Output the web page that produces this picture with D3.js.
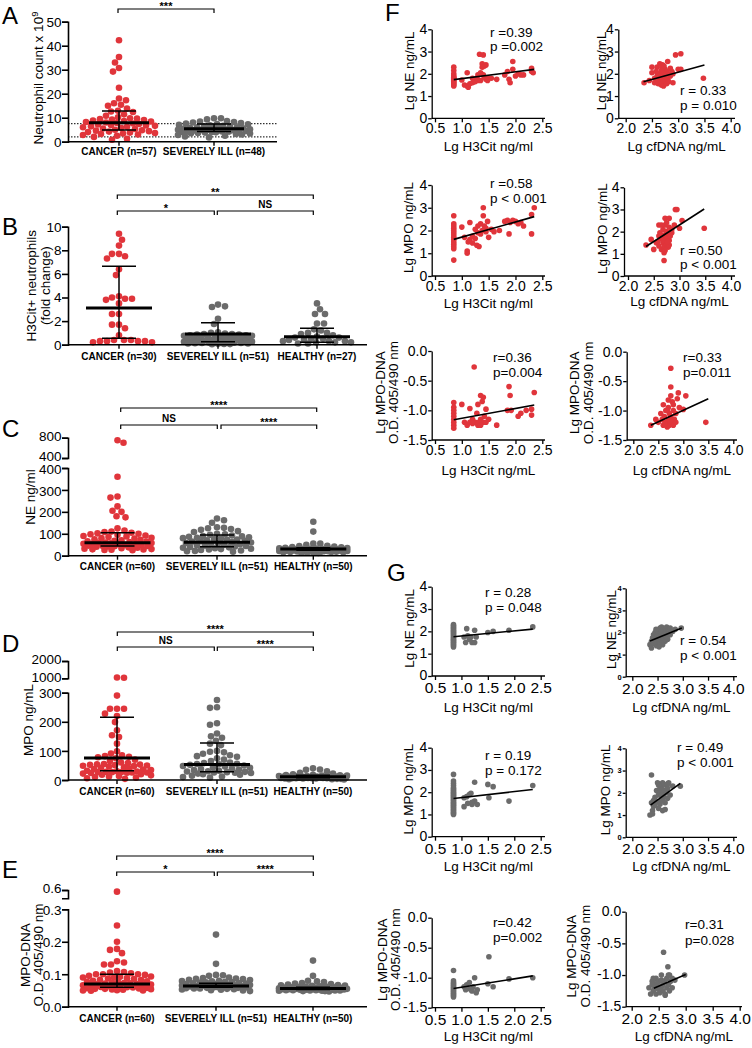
<!DOCTYPE html>
<html><head><meta charset="utf-8">
<script src="https://cdn.jsdelivr.net/npm/d3@7"></script>
<style>body{margin:0;background:#fff}</style>
</head><body>
<script>
// ================= DATA =================
const aGroups = ['CANCER (n=57)', 'SEVERELY ILL (n=48)'];
const bGroups = ['CANCER (n=30)', 'SEVERELY ILL (n=51)', 'HEALTHY (n=27)'];
const cdeGroups = ['CANCER (n=60)', 'SEVERELY ILL (n=51)', 'HEALTHY (n=50)'];

const aCancer = [42.3,35.3,33.0,30.7,29.2,22.5,18.0,17.3,16.0,15.4,15.0,13.8,12.9,12.6,12.4,11.4,10.8,10.2,9.8,9.6,9.4,9.2,9.0,8.8,8.6,8.4,8.2,8.0,7.8,7.6,7.4,7.2,7.0,6.8,6.6,6.4,6.2,6.0,5.8,5.5,5.3,5.0,4.8,4.6,4.4,4.2,4.0,3.8,3.6,3.4,3.2,3.0,2.8,2.5,2.0,1.2,0.8];
const aSevere = [9.8,9.8,9.3,8.6,8.4,8.2,8.0,7.8,7.6,7.4,7.2,7.0,6.8,6.6,6.4,6.2,6.0,6.0,5.8,5.6,5.5,5.4,5.3,5.2,5.1,5.0,5.0,4.9,4.8,4.7,4.6,4.5,4.4,4.3,4.2,4.1,4.0,3.9,3.8,3.6,3.5,3.4,3.2,3.0,2.8,2.5,2.2,1.8];
const aMedian = [7.9, 5.4], aUpper = [12.8, 7.4], aLower = [4.9, 4.2];
const aRefLines = [7.5, 2.0];
const aTicks = [0,10,20,30,40,50];

const bCancer = [9.4,8.9,8.4,7.7,7.7,7.5,7.3,6.4,5.9,4.1,4.0,3.9,3.9,3.8,3.5,2.6,2.6,1.7,1.7,1.4,0.8,0.4,0.4,0.4,0.3,0.3,0.3,0.3,0.2,0.2];
const bSevere = [3.4,3.25,3.2,2.2,1.75,1.05,1.0,0.95,0.9,0.9,0.85,0.85,0.8,0.8,0.75,0.75,0.7,0.7,0.65,0.65,0.6,0.6,0.55,0.55,0.5,0.5,0.45,0.45,0.4,0.4,0.35,0.35,0.3,0.3,0.28,0.26,0.24,0.22,0.2,0.2,0.18,0.16,0.15,0.14,0.12,0.1,0.1,0.08,0.06,0.05,0.04];
const bHealthy = [3.5,3.0,2.6,2.6,1.8,1.8,1.3,1.2,1.0,1.0,0.9,0.8,0.7,0.6,0.6,0.5,0.5,0.4,0.4,0.3,0.3,0.3,0.2,0.2,0.2,0.1,0.1];
const bMedian = [3.1, 0.9, 0.68], bUpper = [6.65, 1.87, 1.39], bLower = [0.54, 0.25, 0.2];
const bTicks = [0,2,4,6,8,10];

const cCancer = [750,700,360,270,265,225,205,200,180,175,125,115,110,108,105,102,100,98,95,92,90,88,85,82,80,78,75,72,70,68,66,64,62,60,59,58,57,56,55,54,52,50,48,47,46,45,44,43,42,41,38,36,34,32,30,29,28,27,26,25];
const cSevere = [170,162,150,130,127,125,122,118,112,108,100,98,95,92,90,88,86,84,82,80,78,76,74,72,70,68,66,64,62,60,58,56,54,52,50,48,46,44,42,40,38,36,34,32,30,28,26,24,22,20,18];
const cHealthy = [155,110,55,55,50,45,44,42,40,38,36,35,34,33,32,31,30,30,29,29,28,28,27,27,26,26,25,25,24,24,23,23,22,22,21,21,20,20,19,19,18,18,17,17,16,16,15,15,14,12];
const cMedian = [59, 61, 30], cUpper = [105, 94, 36], cLower = [44, 41, 25];
const cTicksLow = [0,100,200,300,400], cTicksHigh = [400,800];

const dCancer = [1050,1030,290,245,245,245,228,220,199,171,154,148,125,99,91,85,82,80,78,75,70,65,60,58,55,54,53,52,51,50,49,48,46,44,42,40,38,36,34,32,30,29,28,28,27,27,26,26,25,24,22,20,18,16,14,12,10,8,6,4];
const dSevere = [275,250,248,195,190,160,150,145,135,125,120,100,97,95,90,85,82,80,75,70,65,60,58,56,55,54,52,50,48,46,44,42,40,38,36,34,32,30,29,28,27,26,25,24,22,20,18,15,12,10,8];
const dHealthy = [40,36,35,30,25,22,20,18,17,16,15,15,14,14,13,13,12,12,12,11,11,11,10,10,10,10,9,9,9,9,8,8,8,8,7,7,7,7,6,6,6,6,5,5,5,4,4,3,3,2];
const dMedian = [76, 53, 11], dUpper = [216, 127, 16], dLower = [32, 28, 8];
const dTicksLow = [0,100,200,300], dTicksHigh = [1000,2000];

const eCancer = [0.58,0.25,0.20,0.178,0.175,0.165,0.14,0.136,0.13,0.13,0.11,0.107,0.105,0.103,0.10,0.10,0.10,0.098,0.095,0.093,0.092,0.09,0.09,0.088,0.087,0.085,0.083,0.082,0.08,0.078,0.077,0.075,0.074,0.073,0.072,0.071,0.07,0.069,0.068,0.067,0.066,0.065,0.064,0.063,0.062,0.061,0.06,0.059,0.058,0.057,0.056,0.055,0.055,0.054,0.053,0.052,0.051,0.05,0.05,0.049];
const eSevere = [0.222,0.132,0.098,0.097,0.095,0.09,0.088,0.087,0.086,0.085,0.083,0.082,0.08,0.079,0.078,0.077,0.076,0.075,0.074,0.073,0.072,0.071,0.07,0.07,0.069,0.068,0.067,0.066,0.066,0.065,0.065,0.064,0.063,0.062,0.062,0.061,0.06,0.06,0.059,0.058,0.058,0.057,0.056,0.056,0.055,0.054,0.053,0.052,0.051,0.05,0.048];
const eHealthy = [0.142,0.095,0.08,0.078,0.076,0.073,0.071,0.07,0.068,0.067,0.066,0.065,0.064,0.063,0.062,0.062,0.061,0.06,0.06,0.059,0.059,0.058,0.058,0.057,0.057,0.056,0.056,0.055,0.055,0.055,0.054,0.054,0.054,0.053,0.053,0.053,0.052,0.052,0.052,0.051,0.051,0.051,0.05,0.05,0.05,0.049,0.049,0.048,0.048,0.047];
const eMedian = [0.070, 0.064, 0.056], eUpper = [0.100, 0.072, 0.060], eLower = [0.060, 0.060, 0.053];
const eTicksLow = [0,0.1,0.2,0.3], eTicksHigh = [0.6];

// correlation scatter data [x, y]
const fNeH3cit = [[0.85,2.3],[0.85,2.15],[0.85,2.0],[0.85,1.9],[0.85,1.85],[0.85,1.8],[0.85,1.75],[0.85,1.7],[0.85,1.65],[0.85,1.6],[0.85,1.55],[0.85,1.5],[0.85,1.45],[1.0,1.72],[1.1,2.05],[1.05,1.5],[1.1,1.45],[1.12,1.4],[1.15,1.55],[1.2,1.6],[1.22,1.75],[1.25,1.65],[1.3,1.7],[1.3,1.95],[1.33,2.88],[1.4,2.85],[1.38,2.45],[1.42,2.35],[1.45,2.4],[1.38,2.3],[1.35,2.05],[1.4,1.95],[1.42,1.85],[1.45,1.75],[1.5,1.8],[1.48,1.7],[1.35,1.7],[1.28,1.8],[1.2,1.8],[1.55,1.8],[1.65,1.75],[1.8,1.95],[1.85,2.1],[1.9,1.6],[1.88,1.75],[1.95,2.55],[1.95,2.2],[2.0,1.9],[2.05,2.0],[2.1,1.95],[2.15,1.95],[2.3,2.25],[2.3,2.1],[2.33,2.05]];
const fNeH3citFit = [[0.85,1.74],[2.35,2.2]];
const fNeCfdna = [[2.35,1.6],[2.45,1.7],[2.5,2.3],[2.5,2.05],[2.55,1.6],[2.55,1.8],[2.6,2.3],[2.6,1.9],[2.62,1.55],[2.65,1.7],[2.65,2.0],[2.68,1.5],[2.7,2.4],[2.7,2.3],[2.7,1.8],[2.7,1.6],[2.72,2.0],[2.72,1.45],[2.75,2.2],[2.75,1.9],[2.75,1.7],[2.78,2.1],[2.78,1.55],[2.8,2.55],[2.8,2.0],[2.8,1.8],[2.82,1.65],[2.85,2.25],[2.85,1.9],[2.9,2.0],[2.95,2.85],[3.0,2.2],[3.05,2.9],[3.05,2.2],[2.9,1.6],[2.6,1.65],[2.65,2.45],[2.68,2.15],[2.73,2.35],[3.48,1.8],[2.58,2.1],[2.88,2.1],[2.78,1.95],[2.7,2.05],[2.66,1.85]];
const fNeCfdnaFit = [[2.34,1.64],[3.5,2.4]];
const fMpoH3cit = [[0.85,0.7],[0.85,1.2],[0.85,1.3],[0.85,1.4],[0.85,1.5],[0.85,1.6],[0.85,1.7],[0.85,1.8],[0.85,1.9],[0.85,2.0],[0.85,2.1],[0.85,2.2],[0.85,2.3],[0.85,2.65],[1.0,2.15],[1.05,1.7],[1.1,1.1],[1.1,1.0],[1.12,1.5],[1.15,2.35],[1.15,1.6],[1.2,1.45],[1.2,1.75],[1.25,1.65],[1.28,1.35],[1.3,1.9],[1.3,2.2],[1.32,1.3],[1.35,2.3],[1.35,1.85],[1.38,2.0],[1.4,3.0],[1.4,2.65],[1.42,2.2],[1.45,2.1],[1.45,1.95],[1.48,2.4],[1.5,1.7],[1.55,2.05],[1.6,1.95],[1.7,2.0],[1.8,2.4],[1.85,2.45],[1.88,1.85],[1.9,2.35],[1.95,2.45],[2.0,2.4],[2.05,2.3],[2.1,2.35],[2.15,2.2],[2.3,1.85],[2.3,2.7],[2.35,3.0],[1.25,2.05]];
const fMpoH3citFit = [[0.85,1.61],[2.35,2.61]];
const fMpoCfdna = [[2.35,1.4],[2.45,1.65],[2.5,1.2],[2.55,1.5],[2.6,2.3],[2.6,1.35],[2.62,1.95],[2.65,1.7],[2.65,1.2],[2.68,2.1],[2.68,1.5],[2.7,0.7],[2.7,1.85],[2.7,1.3],[2.7,1.05],[2.72,2.6],[2.72,2.3],[2.72,1.6],[2.75,2.4],[2.75,2.0],[2.75,1.75],[2.75,1.45],[2.78,1.9],[2.78,1.3],[2.8,2.6],[2.8,2.2],[2.8,1.6],[2.82,1.8],[2.85,2.1],[2.85,1.95],[2.9,2.3],[2.92,3.0],[2.95,3.0],[3.0,2.15],[3.05,2.5],[2.6,1.8],[2.65,2.3],[2.8,1.4],[2.68,1.6],[2.72,1.15],[3.48,2.15],[2.58,1.55],[2.77,1.55]];
const fMpoCfdnaFit = [[2.35,1.33],[3.48,3.02]];
const fDnaH3cit = [[0.85,-0.87],[0.85,-0.95],[0.85,-1.0],[0.85,-1.05],[0.85,-1.1],[0.85,-1.15],[0.85,-1.2],[0.85,-1.25],[0.85,-1.3],[1.0,-0.9],[1.05,-1.2],[1.1,-1.25],[1.15,-0.97],[1.2,-1.15],[1.25,-1.2],[1.23,-0.27],[1.3,-0.9],[1.3,-1.25],[1.35,-0.75],[1.35,-1.15],[1.38,-0.85],[1.4,-0.78],[1.4,-1.2],[1.42,-1.1],[1.45,-0.98],[1.45,-1.2],[1.5,-1.15],[1.28,-1.05],[1.32,-1.2],[1.15,-1.2],[1.65,-1.25],[1.85,-1.0],[1.88,-0.6],[1.9,-0.75],[1.92,-1.0],[2.05,-1.1],[2.1,-1.05],[2.2,-1.0],[2.3,-1.08],[2.3,-0.98],[2.35,-0.7],[1.2,-1.22],[1.35,-1.25]];
const fDnaH3citFit = [[0.85,-1.16],[2.35,-0.91]];
const fDnaCfdna = [[2.35,-1.25],[2.45,-1.15],[2.5,-1.2],[2.55,-1.05],[2.6,-1.25],[2.6,-0.9],[2.62,-1.1],[2.65,-1.2],[2.65,-1.0],[2.68,-1.28],[2.7,-0.95],[2.7,-1.15],[2.72,-1.05],[2.72,-1.25],[2.75,-0.28],[2.75,-0.6],[2.75,-0.75],[2.75,-1.1],[2.78,-0.85],[2.78,-1.2],[2.8,-0.9],[2.8,-1.0],[2.8,-1.25],[2.82,-1.15],[2.85,-1.05],[2.9,-0.7],[2.92,-0.95],[3.0,-0.98],[3.05,-0.75],[2.88,-0.8],[3.45,-1.2],[2.58,-1.15],[2.68,-1.0],[2.73,-1.18],[2.63,-1.22],[2.7,-0.82],[2.85,-1.2]];
const fDnaCfdnaFit = [[2.35,-1.25],[3.5,-0.8]];

const gNeH3cit = [[0.85,1.3],[0.85,1.35],[0.85,1.4],[0.85,1.45],[0.85,1.5],[0.85,1.55],[0.85,1.6],[0.85,1.65],[0.85,1.7],[0.85,1.75],[0.85,1.8],[0.85,1.85],[0.85,1.9],[0.85,1.95],[0.85,2.0],[0.85,2.05],[0.85,2.1],[0.85,2.15],[0.85,2.2],[0.85,2.25],[0.85,2.3],[1.05,1.75],[1.08,1.5],[1.1,2.12],[1.12,1.8],[1.15,1.65],[1.18,1.75],[1.2,1.5],[1.25,2.05],[1.25,1.5],[1.28,1.75],[1.5,1.95],[1.6,2.0],[1.9,2.05],[2.35,2.2]];
const gNeH3citFit = [[0.85,1.76],[2.35,2.1]];
const gNeCfdna = [[2.35,1.45],[2.38,1.6],[2.38,1.3],[2.4,1.75],[2.42,1.9],[2.42,1.5],[2.45,1.65],[2.45,2.0],[2.48,1.4],[2.48,1.8],[2.5,2.1],[2.5,1.55],[2.52,1.7],[2.52,1.95],[2.55,2.2],[2.55,1.85],[2.55,1.5],[2.58,2.25],[2.58,1.65],[2.6,2.0],[2.6,1.75],[2.62,2.15],[2.62,1.9],[2.65,2.1],[2.65,1.6],[2.68,2.25],[2.68,1.8],[2.7,2.0],[2.72,2.15],[2.75,1.9],[2.75,2.2],[2.8,2.05],[2.85,2.15],[2.97,2.2],[2.45,1.75],[2.5,1.85],[2.6,1.45],[2.42,1.55],[2.57,2.05],[2.64,1.95],[2.7,1.7],[2.47,2.15],[2.53,1.35]];
const gNeCfdnaFit = [[2.35,1.62],[2.98,2.2]];
const gMpoH3cit = [[0.85,1.0],[0.85,1.05],[0.85,1.1],[0.85,1.15],[0.85,1.2],[0.85,1.25],[0.85,1.3],[0.85,1.35],[0.85,1.4],[0.85,1.45],[0.85,1.5],[0.85,1.55],[0.85,1.6],[0.85,1.65],[0.85,1.7],[0.85,1.75],[0.85,1.8],[0.85,1.85],[0.85,1.9],[0.85,1.95],[0.85,2.0],[0.85,2.05],[0.85,2.1],[0.85,2.15],[0.85,2.2],[0.85,2.3],[0.85,2.4],[0.85,2.5],[0.85,2.8],[1.05,1.75],[1.05,1.35],[1.1,1.8],[1.12,1.5],[1.15,1.9],[1.18,1.95],[1.2,1.45],[1.25,2.45],[1.25,1.6],[1.3,1.45],[1.5,2.35],[1.52,1.75],[1.6,2.25],[1.9,1.6],[2.35,2.3],[1.2,1.55]];
const gMpoH3citFit = [[0.85,1.72],[2.35,2.12]];
const gMpoCfdna = [[2.35,1.0],[2.38,2.8],[2.38,1.55],[2.4,1.2],[2.42,1.4],[2.45,1.8],[2.48,2.1],[2.5,1.6],[2.5,2.45],[2.52,1.3],[2.52,1.9],[2.55,2.0],[2.55,1.5],[2.58,2.3],[2.58,1.7],[2.6,2.45],[2.6,1.2],[2.62,2.1],[2.62,1.85],[2.65,2.35],[2.65,1.55],[2.68,2.0],[2.7,2.2],[2.7,1.75],[2.72,2.45],[2.75,1.9],[2.8,2.3],[2.95,2.3],[2.45,1.45],[2.55,2.2],[2.6,1.65],[2.52,2.35],[2.65,1.25],[2.42,1.65],[2.7,2.4],[2.58,1.9],[2.4,1.05]];
const gMpoCfdnaFit = [[2.36,1.45],[2.95,2.42]];
const gDnaH3cit = [[0.85,-0.88],[0.85,-1.05],[0.85,-1.08],[0.85,-1.1],[0.85,-1.12],[0.85,-1.14],[0.85,-1.16],[0.85,-1.18],[0.85,-1.2],[0.85,-1.22],[0.85,-1.24],[0.85,-1.26],[0.85,-1.28],[0.85,-1.3],[0.85,-1.32],[1.05,-1.15],[1.08,-1.2],[1.1,-1.12],[1.12,-1.18],[1.15,-1.08],[1.2,-1.22],[1.22,-1.15],[1.25,-1.0],[1.28,-1.25],[1.3,-1.2],[1.5,-1.1],[1.52,-0.65],[1.6,-1.15],[1.9,-1.02],[2.35,-1.0],[1.18,-1.2]];
const gDnaH3citFit = [[0.85,-1.18],[2.35,-0.97]];
const gDnaCfdna = [[2.32,-1.2],[2.35,-1.3],[2.38,-1.1],[2.4,-1.25],[2.42,-1.15],[2.45,-1.05],[2.45,-1.3],[2.48,-1.2],[2.59,-0.64],[2.5,-1.1],[2.52,-1.28],[2.55,-1.0],[2.55,-1.18],[2.67,-0.87],[2.58,-1.25],[2.6,-1.1],[2.62,-1.32],[2.65,-1.05],[2.65,-1.2],[2.68,-1.15],[2.7,-1.0],[2.7,-1.25],[2.72,-1.1],[2.75,-1.05],[2.8,-1.08],[2.98,-1.0],[2.42,-1.22],[2.48,-1.12],[2.58,-1.15],[2.62,-1.3],[2.55,-1.08],[2.4,-1.05],[2.68,-1.0],[2.38,-1.15],[2.5,-1.22],[2.75,-1.2]];
const gDnaCfdnaFit = [[2.41,-1.21],[3.0,-0.99]];

const h3citTicks = [0.5,1.0,1.5,2.0,2.5];
const cfdnaTicks = [2.0,2.5,3.0,3.5,4.0];
const lgTicks = [0,1,2,3,4];
const dnaTicks = [-1.5,-1.0,-0.5,0.0];

// ================= DRAWING =================
const RED = '#e0353b', GRAY = '#6b6b6b';
const FONT = '"Liberation Sans", Arial, Helvetica, sans-serif';
const svg = d3.select('body').append('svg').attr('width', 752).attr('height', 1048)
  .style('font-family', FONT);

function letter(t, x, y) {
  svg.append('text').attr('x', x).attr('y', y).attr('font-size', 24).text(t);
}

function makeY(segs) {
  const sc = segs.map(s => d3.scaleLinear().domain(s.domain).range(s.range));
  return v => {
    for (let i = 0; i < segs.length; i++) {
      if (v <= segs[i].domain[1] || i === segs.length - 1) return sc[i](v);
    }
  };
}

function swarm(values, yf, cx, d, maxHalf) {
  const pts = values.map(v => ({ v, y: yf(v) })).sort((a, b) => a.y - b.y);
  const placed = [];
  pts.forEach((p, idx) => {
    let found = null, alt = cx, altScore = -1;
    const sgn = idx % 2 ? 1 : -1;
    for (let k = 0; k <= 2 * maxHalf; k++) {
      const off = k === 0 ? 0 : (k % 2 ? sgn : -sgn) * Math.ceil(k / 2);
      const x = cx + off;
      let minD = Infinity;
      for (const q of placed) {
        const dd = Math.hypot(q.x - x, q.y - p.y);
        if (dd < minD) minD = dd;
      }
      if (minD >= d) { found = x; break; }
      if (minD > altScore + 0.01) { altScore = minD; alt = x; }
    }
    p.x = found !== null ? found : alt;
    placed.push(p);
  });
  return placed;
}

function styleAxis(ax, sw, fs, bold) {
  ax.attr('font-family', FONT).attr('font-size', fs);
  ax.selectAll('path,line').attr('stroke', '#000').attr('stroke-width', sw);
  if (bold) ax.selectAll('text').attr('font-weight', 'bold');
}

function dotPanel(p) {
  const g = svg.append('g');
  const y = makeY(p.segs);
  const base = p.segs[0].range[0];
  (p.refLines || []).forEach(v => {
    g.append('line').attr('x1', p.axisX).attr('x2', p.axisEnd).attr('y1', y(v)).attr('y2', y(v))
      .attr('stroke', '#000').attr('stroke-width', 1).attr('stroke-dasharray', '1.5,1.5');
  });
  p.series.forEach((vals, i) => {
    const pts = swarm(vals, y, p.centers[i], 6.4, p.maxHalf || 34);
    g.append('g').selectAll('circle').data(pts).join('circle')
      .attr('cx', d => d.x).attr('cy', d => d.y).attr('r', 3.3)
      .attr('fill', i === 0 ? RED : GRAY);
  });
  p.centers.forEach((cx, i) => {
    const lw = p.medHalf || 33, cw = 17;
    g.append('line').attr('x1', cx).attr('x2', cx).attr('y1', y(p.lower[i])).attr('y2', y(p.upper[i]))
      .attr('stroke', '#000').attr('stroke-width', 1.5);
    [p.lower[i], p.upper[i]].forEach(v => g.append('line').attr('x1', cx - cw).attr('x2', cx + cw)
      .attr('y1', y(v)).attr('y2', y(v)).attr('stroke', '#000').attr('stroke-width', 1.5));
    g.append('line').attr('x1', cx - lw).attr('x2', cx + lw).attr('y1', y(p.median[i])).attr('y2', y(p.median[i]))
      .attr('stroke', '#000').attr('stroke-width', 3);
  });
  g.append('line').attr('x1', p.axisX).attr('x2', p.axisEnd).attr('y1', base).attr('y2', base)
    .attr('stroke', '#000').attr('stroke-width', 1.6);
  p.centers.forEach((cx, i) => {
    g.append('line').attr('x1', cx).attr('x2', cx).attr('y1', base).attr('y2', base + 4)
      .attr('stroke', '#000').attr('stroke-width', 1.4);
    g.append('text').attr('x', cx).attr('y', p.labelY).attr('text-anchor', 'middle')
      .attr('font-weight', 'bold').attr('font-size', 10).text(p.groups[i]);
  });
  p.segs.forEach((s, si) => {
    const sc = d3.scaleLinear().domain(s.domain).range(s.range);
    const ax = g.append('g').attr('transform', `translate(${p.axisX},0)`)
      .call(d3.axisLeft(sc).tickValues(s.ticks).tickSize(6).tickSizeOuter(6).tickPadding(0.5).tickFormat(p.fmt));
    styleAxis(ax, 1.6, 13.5);
    if (si > 0) ax.selectAll('text').attr('dy', '0.2em');
    else if (p.segs.length > 1) ax.selectAll('text').attr('dy', '0.38em');
  });
  p.brackets.forEach(b => {
    g.append('path').attr('d', `M${b.x1},${b.y + 4}V${b.y}H${b.x2}V${b.y + 4}`)
      .attr('fill', 'none').attr('stroke', '#000').attr('stroke-width', 1.2);
    const star = b.text.indexOf('*') >= 0;
    g.append('text').attr('x', (b.x1 + b.x2) / 2).attr('y', star ? b.y + 0.5 : b.y - 3).attr('text-anchor', 'middle')
      .attr('font-weight', 'bold').attr('font-size', star ? 11 : 10).text(b.text);
  });
  const ym = p.titleY || (p.segs[0].range[0] + p.segs[p.segs.length - 1].range[1]) / 2;
  p.title.forEach((t, i) => {
    const tx = g.append('text').attr('transform', `translate(${p.titleX[i]},${ym}) rotate(-90)`)
      .attr('text-anchor', 'middle').attr('dy', '0.35em').attr('font-size', 13.5).text(t);
    if (p.sup && i === 0) tx.append('tspan').attr('dy', '-0.45em').attr('font-size', 9.5).text(p.sup);
  });
  letter(p.letter, 2, p.letterY);
}

const intFmt = d => String(d);
const oneFmt = d => d.toFixed(1);

dotPanel({
  letter: 'A', letterY: 24, groups: aGroups, series: [aCancer, aSevere],
  median: aMedian, upper: aUpper, lower: aLower, refLines: aRefLines,
  centers: [119, 214], axisX: 68, axisEnd: 277, labelY: 155, medHalf: 30, maxHalf: 36,
  segs: [{ domain: [0, 50], range: [141.7, 21.7], ticks: aTicks }], fmt: intFmt,
  brackets: [{ x1: 118, x2: 214, y: 9, text: '***' }],
  title: ['Neutrophil count x 10'], sup: '9', titleX: [38], titleY: 78
});
dotPanel({
  letter: 'B', letterY: 235, groups: bGroups, series: [bCancer, bSevere, bHealthy],
  median: bMedian, upper: bUpper, lower: bLower,
  centers: [119, 218, 317], axisX: 68, axisEnd: 367, labelY: 360,
  segs: [{ domain: [0, 10], range: [344.7, 226.7], ticks: bTicks }], fmt: intFmt,
  brackets: [{ x1: 117.3, x2: 313.3, y: 195, text: '**' }, { x1: 117.3, x2: 214.3, y: 211, text: '*' }, { x1: 217.3, x2: 313.3, y: 211, text: 'NS' }],
  title: ['H3Cit+ neutrophils', '(fold change)'], titleX: [31, 45]
});
dotPanel({
  letter: 'C', letterY: 437, groups: cdeGroups, series: [cCancer, cSevere, cHealthy],
  median: cMedian, upper: cUpper, lower: cLower,
  centers: [117.5, 217, 313.3], axisX: 68, axisEnd: 367, labelY: 570,
  segs: [{ domain: [0, 400], range: [555.7, 468], ticks: cTicksLow }, { domain: [400, 800], range: [458, 437.7], ticks: cTicksHigh }], fmt: intFmt,
  brackets: [{ x1: 120.7, x2: 316.7, y: 408, text: '****' }, { x1: 120.7, x2: 217.3, y: 425, text: 'NS' }, { x1: 221, x2: 316.7, y: 425, text: '****' }],
  title: ['NE ng/ml'], titleX: [30], titleY: 497
});
dotPanel({
  letter: 'D', letterY: 652, groups: cdeGroups, series: [dCancer, dSevere, dHealthy],
  median: dMedian, upper: dUpper, lower: dLower,
  centers: [117, 217, 313], axisX: 68, axisEnd: 367, labelY: 795,
  segs: [{ domain: [0, 300], range: [780, 692.7], ticks: dTicksLow }, { domain: [1000, 2000], range: [678.3, 661], ticks: dTicksHigh }], fmt: intFmt,
  brackets: [{ x1: 117.3, x2: 313.3, y: 632, text: '****' }, { x1: 117.3, x2: 214.3, y: 647, text: 'NS' }, { x1: 217.3, x2: 313.3, y: 647, text: '****' }],
  title: ['MPO ng/mL'], titleX: [28], titleY: 720
});
dotPanel({
  letter: 'E', letterY: 878, groups: cdeGroups, series: [eCancer, eSevere, eHealthy],
  median: eMedian, upper: eUpper, lower: eLower,
  centers: [117, 216, 313], axisX: 68, axisEnd: 367, labelY: 1021.7,
  segs: [{ domain: [0, 0.3], range: [1006.7, 909.3], ticks: eTicksLow }, { domain: [0.5, 0.6], range: [898.3, 890], ticks: eTicksHigh }], fmt: oneFmt,
  brackets: [{ x1: 116.7, x2: 313.3, y: 856, text: '****' }, { x1: 116.7, x2: 214.3, y: 872, text: '*' }, { x1: 217.3, x2: 313.3, y: 872, text: '****' }],
  title: ['MPO-DNA', 'O.D. 405/490 nm'], titleX: [25, 38], titleY: 955
});

// ---------- scatter panels ----------
function scatter(p) {
  const g = svg.append('g');
  const x = d3.scaleLinear().domain([p.xTicks[0], p.xTicks[p.xTicks.length - 1]]).range(p.xp);
  const y = d3.scaleLinear().domain([p.yTicks[0], p.yTicks[p.yTicks.length - 1]]).range(p.yr);
  const base = p.yr[0];
  g.selectAll('circle').data(p.data).join('circle')
    .attr('cx', d => x(d[0])).attr('cy', d => y(d[1])).attr('r', 2.8).attr('fill', p.color);
  g.append('line').attr('x1', x(p.fit[0][0])).attr('y1', y(p.fit[0][1]))
    .attr('x2', x(p.fit[1][0])).attr('y2', y(p.fit[1][1]))
    .attr('stroke', '#000').attr('stroke-width', 1.6);
  const xa = g.append('g').attr('transform', `translate(0,${base})`)
    .call(d3.axisBottom(x).tickValues(p.xTicks).tickSize(4).tickSizeOuter(0).tickPadding(p.xfs ? 2 : 1).tickFormat(oneFmt));
  xa.select('.domain').remove();
  styleAxis(xa, 1.3, p.xfs || 14);
  g.append('line').attr('x1', p.axisX).attr('x2', p.xEnd).attr('y1', base).attr('y2', base)
    .attr('stroke', '#000').attr('stroke-width', 1.3);
  const ya = g.append('g').attr('transform', `translate(${p.axisX},0)`)
    .call(d3.axisLeft(y).tickValues(p.yTicks).tickSize(p.small ? 3 : 3.5).tickSizeOuter(0).tickPadding(1)
      .tickFormat(p.yFmt));
  styleAxis(ya, 1.3, p.small ? 7.5 : 14, p.small);
  if (p.xfs && !p.small) ya.selectAll('text').attr('dy', '0.28em');
  g.append('text').attr('x', (p.axisX + p.xEnd) / 2).attr('y', p.xTitleY).attr('text-anchor', 'middle')
    .attr('font-size', 13.5).text(p.xTitle);
  const ym = (p.yr[0] + p.yr[1]) / 2 - 3;
  p.yTitle.forEach((t, i) => {
    g.append('text').attr('transform', `translate(${p.yTitleX[i]},${ym}) rotate(-90)`)
      .attr('text-anchor', 'middle').attr('dy', '0.35em').attr('font-size', 13.5).text(t);
  });
  p.ann.forEach((t, i) => {
    g.append('text').attr('x', p.annX).attr('y', p.annY[i]).attr('font-size', 13.5).text(t);
  });
}

const L = { axisX: 431.7, xp: [435, 542.3], xEnd: 545, xTicks: h3citTicks };
const DNA_T = ['Lg MPO-DNA', 'O.D. 405/490 nm'];

letter('F', 385, 21);
scatter({ ...L, yTicks: lgTicks, yr: [118.3, 29.3], yFmt: intFmt, data: fNeH3cit, fit: fNeH3citFit, color: RED,
  xTitle: 'Lg H3Cit ng/ml', xTitleY: 151, yTitle: ['Lg NE ng/mL'], yTitleX: [409],
  ann: ['r =0.39', 'p =0.002'], annX: 490, annY: [36.7, 50.5] });
scatter({ axisX: 618.3, xp: [625.7, 730.7], xEnd: 735, xTicks: cfdnaTicks, yTicks: lgTicks, yr: [118.3, 29.3], yFmt: intFmt,
  data: fNeCfdna, fit: fNeCfdnaFit, color: RED,
  xTitle: 'Lg cfDNA ng/mL', xTitleY: 151, yTitle: ['Lg NE ng/mL'], yTitleX: [601],
  ann: ['r = 0.33', 'p = 0.010'], annX: 680, annY: [95, 110] });
scatter({ ...L, yTicks: lgTicks, yr: [276, 185], yFmt: intFmt, data: fMpoH3cit, fit: fMpoH3citFit, color: RED,
  xTitle: 'Lg H3Cit ng/ml', xTitleY: 307.7, yTitle: ['Lg MPO ng/mL'], yTitleX: [408],
  ann: ['r =0.58', 'p < 0.001'], annX: 490, annY: [188.3, 202.7] });
scatter({ axisX: 624, xp: [628, 731], xEnd: 735, xTicks: cfdnaTicks, yTicks: lgTicks, yr: [276, 187.3], yFmt: intFmt,
  data: fMpoCfdna, fit: fMpoCfdnaFit, color: RED,
  xTitle: 'Lg cfDNA ng/mL', xTitleY: 306, yTitle: ['Lg MPO ng/mL'], yTitleX: [602],
  ann: ['r =0.50', 'p < 0.001'], annX: 680, annY: [255, 269.3] });
scatter({ ...L, yTicks: dnaTicks, yr: [440, 351], yFmt: oneFmt, data: fDnaH3cit, fit: fDnaH3citFit, color: RED,
  xTitle: 'Lg H3Cit ng/mL', xTitleY: 474.5, yTitle: DNA_T, yTitleX: [380, 393],
  ann: ['r=0.36', 'p=0.004'], annX: 493, annY: [361.7, 376.7] });
scatter({ axisX: 626.7, xp: [633.3, 733.3], xEnd: 737, xTicks: cfdnaTicks, yTicks: dnaTicks, yr: [440, 351.7], yFmt: oneFmt,
  data: fDnaCfdna, fit: fDnaCfdnaFit, color: RED,
  xTitle: 'Lg cfDNA ng/mL', xTitleY: 474.5, yTitle: DNA_T, yTitleX: [574, 588],
  ann: ['r=0.33', 'p=0.011'], annX: 683, annY: [361.7, 376.7] });

letter('G', 387, 581);
const LG = { axisX: 431.7, xp: [435, 540.7], xEnd: 545, xTicks: h3citTicks, xfs: 15.5 };
const RG = { axisX: 625.7, xp: [632.3, 733.3], xEnd: 737, xTicks: cfdnaTicks, xfs: 15.5 };
scatter({ ...LG, yTicks: lgTicks, yr: [676, 586.7], yFmt: intFmt, data: gNeH3cit, fit: gNeH3citFit, color: GRAY,
  xTitle: 'Lg H3Cit ng/ml', xTitleY: 712, yTitle: ['Lg NE ng/mL'], yTitleX: [409],
  ann: ['r = 0.28', 'p = 0.048'], annX: 485, annY: [596.7, 611.7] });
scatter({ ...RG, small: true, yTicks: lgTicks, yr: [676.7, 588.3], yFmt: intFmt, data: gNeCfdna, fit: gNeCfdnaFit, color: GRAY,
  xTitle: 'Lg cfDNA ng/mL', xTitleY: 712, yTitle: ['Lg NE ng/mL'], yTitleX: [611],
  ann: ['r = 0.54', 'p < 0.001'], annX: 680, annY: [645, 660] });
scatter({ ...LG, yTicks: lgTicks, yr: [836.7, 747.7], yFmt: intFmt, data: gMpoH3cit, fit: gMpoH3citFit, color: GRAY,
  xTitle: 'Lg H3Cit ng/ml', xTitleY: 871, yTitle: ['Lg MPO ng/mL'], yTitleX: [408],
  ann: ['r = 0.19', 'p = 0.172'], annX: 485, annY: [760, 775] });
scatter({ ...RG, small: true, yTicks: lgTicks, yr: [837.3, 748.3], yFmt: intFmt, data: gMpoCfdna, fit: gMpoCfdnaFit, color: GRAY,
  xTitle: 'Lg cfDNA ng/mL', xTitleY: 871, yTitle: ['Lg MPO ng/mL'], yTitleX: [605],
  ann: ['r = 0.49', 'p < 0.001'], annX: 677, annY: [751.7, 766.7] });
scatter({ ...LG, yTicks: dnaTicks, yr: [1007.7, 917.7], yFmt: oneFmt, data: gDnaH3cit, fit: gDnaH3citFit, color: GRAY,
  xTitle: 'Lg H3Cit ng/ml', xTitleY: 1041, yTitle: DNA_T, yTitleX: [382, 395],
  ann: ['r=0.42', 'p=0.002'], annX: 493, annY: [926.7, 941.7] });
scatter({ ...RG, xp: [631.7, 739.7], xEnd: 742, yTicks: dnaTicks, yr: [1006.7, 911.7], yFmt: oneFmt, data: gDnaCfdna, fit: gDnaCfdnaFit, color: GRAY,
  xTitle: 'Lg cfDNA ng/mL', xTitleY: 1041, yTitle: DNA_T, yTitleX: [571, 585],
  ann: ['r=0.31', 'p=0.028'], annX: 685, annY: [929.3, 945] });
</script>
</body></html>
